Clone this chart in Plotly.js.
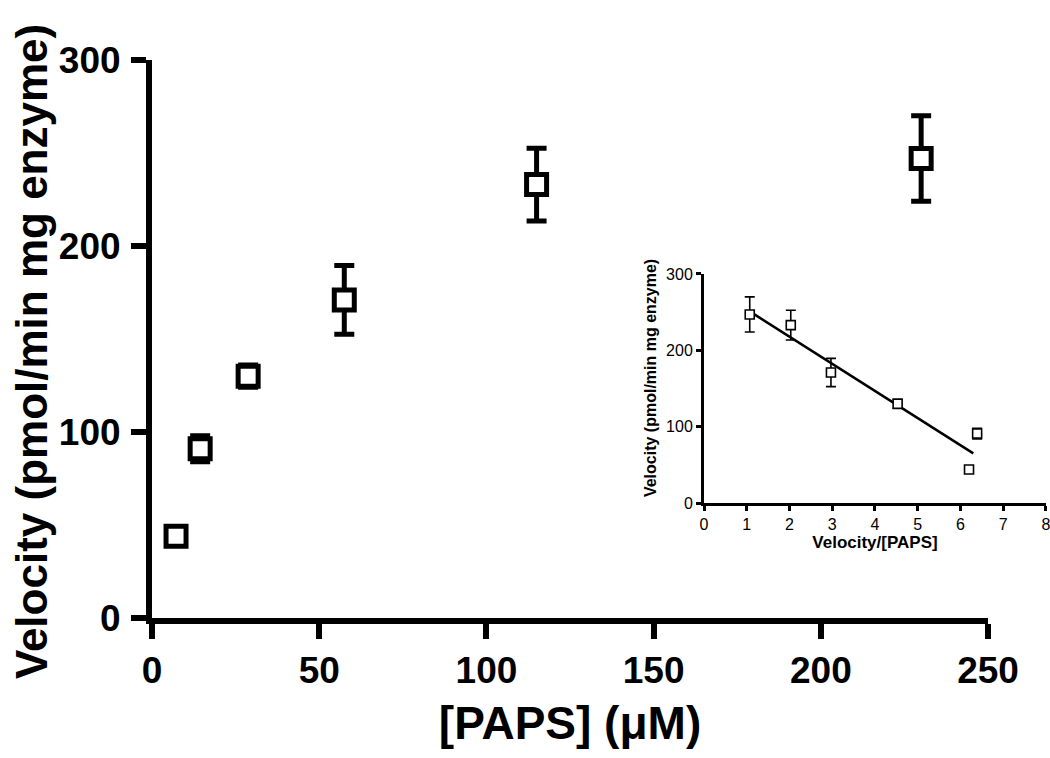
<!DOCTYPE html>
<html>
<head>
<meta charset="utf-8">
<script src="https://cdn.plot.ly/plotly-3.0.1.min.js"></script>
<style>html,body{margin:0;padding:0;background:#fff;}#chart{width:1050px;height:758px;}</style>
</head>
<body>
<div id="chart"></div>
<script>
// Main plot: velocity vs [PAPS]
const paps = [7.19, 14.4, 28.75, 57.5, 115, 230];
const velocity = [44, 91, 130, 171, 233, 247];
const velocityErr = [2, 7, 6, 18.5, 19.5, 23];

// Inset: Eadie-Hofstee style plot
const insetX = [1.07, 2.03, 2.97, 4.53, 6.39, 6.2];
const insetY = [247, 233, 171, 130, 91, 44];
const insetErr = [23, 19.5, 18.5, 6, 7, 2];
const fitX = [1.07, 6.3];
const fitY = [251, 65];

const mainXTicks = [0, 50, 100, 150, 200, 250];
const mainYTicks = [0, 100, 200, 300];
const insetXTicks = [0, 1, 2, 3, 4, 5, 6, 7, 8];
const insetYTicks = [0, 100, 200, 300];

const yTitle = 'Velocity (pmol/min mg enzyme)';
const xTitle = '[PAPS] (μM)';
const insetXTitle = 'Velocity/[PAPS]';

const FONT = 'Arial, "Liberation Sans", sans-serif';

const traces = [
  {
    x: paps, y: velocity, type: 'scatter', mode: 'markers',
    xaxis: 'x', yaxis: 'y',
    marker: {symbol: 'square', size: 20, color: '#ffffff', line: {color: '#000', width: 5}},
    error_y: {type: 'data', array: velocityErr, visible: true, color: '#000', thickness: 5, width: 10},
    cliponaxis: false, showlegend: false, hoverinfo: 'x+y'
  },
  {
    x: fitX, y: fitY, type: 'scatter', mode: 'lines',
    xaxis: 'x2', yaxis: 'y2',
    line: {color: '#000', width: 2.5},
    showlegend: false, hoverinfo: 'skip'
  },
  {
    x: insetX, y: insetY, type: 'scatter', mode: 'markers',
    xaxis: 'x2', yaxis: 'y2',
    marker: {symbol: 'square', size: 9, color: '#ffffff', line: {color: '#000', width: 1.6}},
    error_y: {type: 'data', array: insetErr, visible: true, color: '#000', thickness: 1.6, width: 5},
    cliponaxis: false, showlegend: false, hoverinfo: 'x+y'
  }
];

const layout = {
  width: 1050, height: 758,
  margin: {l: 152, r: 0, t: 60, b: 140},
  paper_bgcolor: '#fff', plot_bgcolor: 'rgba(0,0,0,0)',
  font: {family: FONT, color: '#000'},
  xaxis: {
    domain: [0, 0.931], range: [0, 250],
    tickvals: mainXTicks, ticktext: mainXTicks.map(String),
    showline: true, linecolor: '#000', linewidth: 6,
    ticks: 'outside', ticklen: 15, tickwidth: 6, tickcolor: '#000',
    showgrid: false, zeroline: false,
    tickfont: {size: 37, family: FONT, weight: 'bold', color: '#000'},
    title: {text: xTitle, font: {size: 46, family: FONT, weight: 'bold', color: '#000'}, standoff: 18},
    automargin: false
  },
  yaxis: {
    domain: [0, 1], range: [0, 300],
    tickvals: mainYTicks, ticktext: mainYTicks.map(String),
    showline: true, linecolor: '#000', linewidth: 6,
    ticks: 'outside', ticklen: 15, tickwidth: 6, tickcolor: '#000',
    ticklabelstandoff: 3,
    showgrid: false, zeroline: false,
    tickfont: {size: 37, family: FONT, weight: 'bold', color: '#000'},
    automargin: false
  },
  xaxis2: {
    anchor: 'y2', domain: [0.6147, 0.9955], range: [0, 8],
    tickvals: insetXTicks, ticktext: insetXTicks.map(String),
    showline: true, linecolor: '#000', linewidth: 3,
    ticks: 'outside', ticklen: 5, tickwidth: 3, tickcolor: '#000',
    ticklabeloverflow: 'allow',
    showgrid: false, zeroline: false,
    tickfont: {size: 16, family: FONT, color: '#000'},
    title: {text: insetXTitle, font: {size: 17, family: FONT, weight: 'bold', color: '#000'}, standoff: 4},
    automargin: false
  },
  yaxis2: {
    anchor: 'x2', domain: [0.206, 0.6165], range: [0, 300],
    tickvals: insetYTicks, ticktext: insetYTicks.map(String),
    showline: true, linecolor: '#000', linewidth: 3,
    ticks: 'outside', ticklen: 5, tickwidth: 3, tickcolor: '#000',
    showgrid: false, zeroline: false,
    tickfont: {size: 16, family: FONT, color: '#000'},
    automargin: false
  },
  annotations: [
    {
      text: yTitle, textangle: -90, showarrow: false,
      xref: 'paper', yref: 'paper', x: -0.1347, y: 0.4767,
      xanchor: 'center', yanchor: 'middle',
      font: {size: 44, family: FONT, weight: 'bold', color: '#000'}
    },
    {
      text: yTitle, textangle: -90, showarrow: false,
      xref: 'paper', yref: 'paper', x: 0.5546, y: 0.430,
      xanchor: 'center', yanchor: 'middle',
      font: {size: 16, family: FONT, weight: 'bold', color: '#000'}
    }
  ]
};

Plotly.newPlot('chart', traces, layout, {displayModeBar: false, staticPlot: true});
</script>
</body>
</html>
